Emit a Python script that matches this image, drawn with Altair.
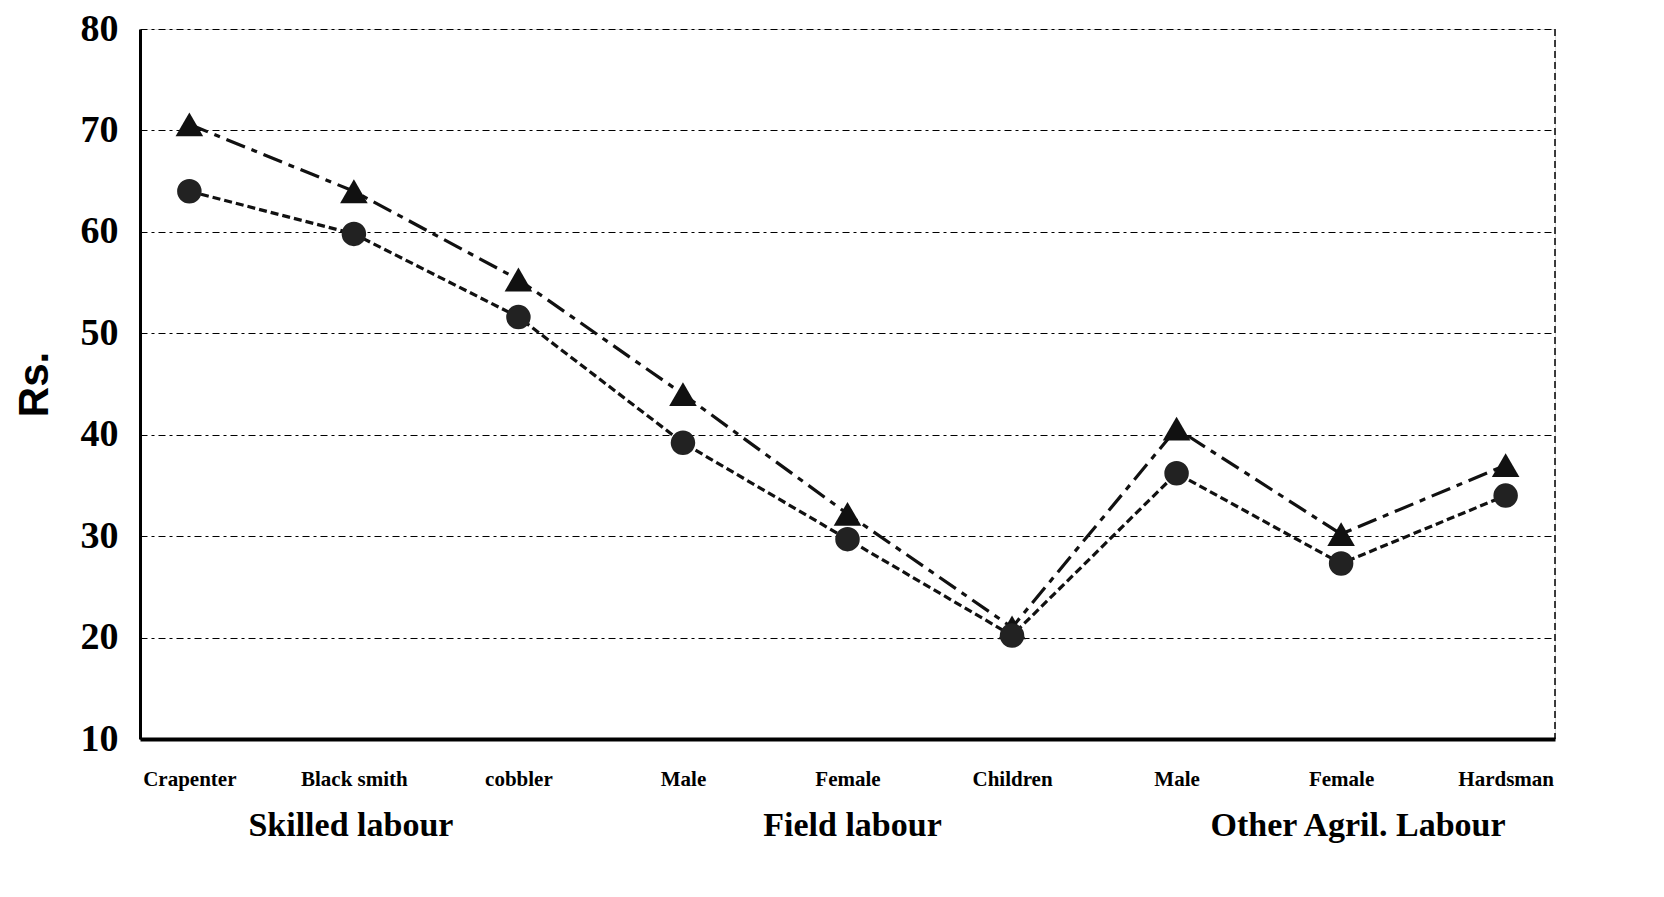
import altair as alt
import pandas as pd

categories = ["Crapenter", "Black smith", "cobbler", "Male", "Female", "Children", "Male", "Female", "Hardsman"]
triangle_values = [70.6, 64.0, 55.3, 44.0, 32.2, 21.0, 40.6, 30.2, 37.0]
circle_values = [64.0, 59.8, 51.6, 39.2, 29.7, 20.2, 36.2, 27.3, 34.0]
groups = ["Skilled labour", "Field labour", "Other Agril. Labour"]
group_positions = [1, 4, 7]
y_ticks = [10, 20, 30, 40, 50, 60, 70, 80]

W, H = 1415, 710
group_dx = [-3, 5, 17]

df_tri = pd.DataFrame({"idx": list(range(len(categories))), "value": triangle_values})
df_circ = pd.DataFrame({"idx": list(range(len(categories))), "value": circle_values})
df_grp = pd.DataFrame({"idx": group_positions, "label": groups})

label_array = "[" + ",".join("'" + c + "'" for c in categories) + "]"

x_enc = alt.X(
    "idx:O",
    scale=alt.Scale(type="point", padding=0.3, domain=list(range(len(categories)))),
    axis=alt.Axis(
        title=None, labelAngle=0, labelExpr=label_array + "[datum.value]",
        labelFont="Liberation Serif", labelFontWeight="bold", labelFontSize=21,
        labelColor="black", labelPadding=29, ticks=False, grid=False,
        domainColor="black", domainWidth=4,
    ),
)
y_enc = alt.Y(
    "value:Q",
    scale=alt.Scale(domain=[10, 80], nice=False, zero=False),
    axis=alt.Axis(
        title="Rs.", values=y_ticks, labelFont="Liberation Serif", labelFontWeight="bold",
        labelFontSize=38, labelColor="black", labelPadding=22, ticks=False,
        grid=True, gridColor="black", gridDash=[7, 4, 3, 4], gridWidth=1.2,
        domainColor="black", domainWidth=3,
        titleFont="Liberation Sans", titleFontWeight="bold", titleFontSize=42,
        titleColor="black", titlePadding=24,
    ),
)

tri_line = alt.Chart(df_tri).mark_line(color="#111", strokeWidth=3.2, strokeDash=[20, 7, 6, 7]).encode(x=x_enc, y=y_enc)
tri_pts = alt.Chart(df_tri).mark_point(shape="triangle-up", filled=True, color="#111", size=760, opacity=1).encode(x=x_enc, y=y_enc)
circ_line = alt.Chart(df_circ).mark_line(color="#111", strokeWidth=3.2, strokeDash=[8, 4]).encode(x=x_enc, y=y_enc)
circ_pts = alt.Chart(df_circ).mark_point(shape="circle", filled=True, color="#222", size=600, opacity=1).encode(x=x_enc, y=y_enc)

right_rule = alt.Chart(df_tri.head(1)).mark_rule(color="black", strokeWidth=1.5, strokeDash=[7, 4]).encode(
    x=alt.value(W), y=alt.value(0), y2=alt.value(H)
)

grp_layers = []
for i in range(len(groups)):
    grp_layers.append(
        alt.Chart(df_grp.iloc[[i]]).mark_text(
            font="Liberation Serif", fontWeight="bold", fontSize=34, color="black",
            baseline="middle", dx=group_dx[i]
        ).encode(x=x_enc, y=alt.value(H + 87), text="label:N")
    )

chart = alt.layer(right_rule, tri_line, circ_line, tri_pts, circ_pts, *grp_layers).properties(
    width=W, height=H,
    autosize=alt.AutoSizeParams(type="none"),
    padding={"left": 132, "top": 21, "right": 101, "bottom": 150},
).configure_view(stroke=None).configure(background="white")

chart.save("out.html", embed_options={"renderer": "svg", "actions": False})
